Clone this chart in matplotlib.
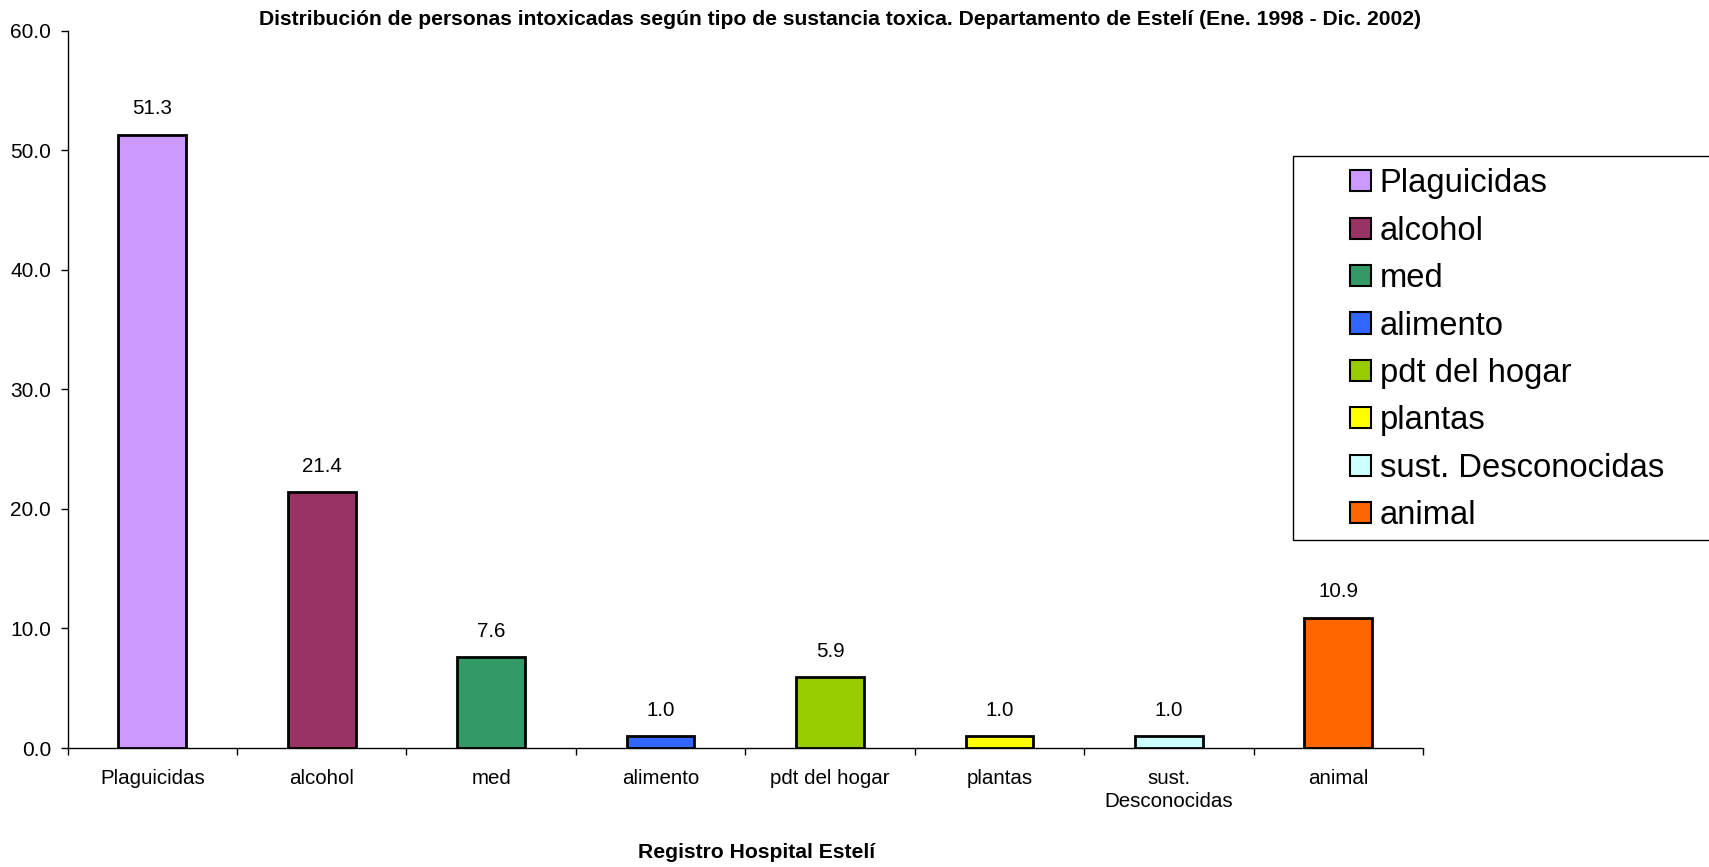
import matplotlib
matplotlib.use("Agg")
import matplotlib.pyplot as plt
from matplotlib.patches import Patch, Rectangle

plt.rcParams['font.family'] = ['Liberation Sans', 'DejaVu Sans']

categories = ["Plaguicidas", "alcohol", "med", "alimento", "pdt del hogar",
              "plantas", "sust. Desconocidas", "animal"]
tick_labels = ["Plaguicidas", "alcohol", "med", "alimento", "pdt del hogar",
               "plantas", "sust.\nDesconocidas", "animal"]
values = [51.3, 21.4, 7.6, 1.0, 5.9, 1.0, 1.0, 10.9]
colors = ["#CC99FF", "#993366", "#339966", "#3366FF", "#99CC00",
          "#FFFF00", "#CCFFFF", "#FF6600"]
y_ticks = [0, 10, 20, 30, 40, 50, 60]

title = ("Distribución de personas intoxicadas según tipo de sustancia toxica. "
         "Departamento de Estelí (Ene. 1998 - Dic. 2002)")
xlabel = "Registro Hospital Estelí"

W, H = 1709, 867
fig = plt.figure(figsize=(W / 100, H / 100), dpi=100)
ax = fig.add_axes([67.6 / W, 1 - 748 / H, (1423 - 67.6) / W, (748 - 30.5) / H])

x = list(range(len(categories)))
ax.bar(x, values, width=0.4, color=colors, edgecolor="black", linewidth=2, zorder=3)

for xi, v in zip(x, values):
    ax.annotate(f"{v:.1f}", (xi, v), xytext=(0, 18.5), textcoords="offset points",
                ha="center", va="center", fontsize=14.8)

ax.set_xlim(-0.5, len(categories) - 0.5)
ax.set_ylim(0, 60)
ax.set_yticks(y_ticks)
ax.set_yticklabels([f"{t:.1f}" for t in y_ticks], fontsize=15)
ax.set_xticks(x)
ax.set_xticklabels(tick_labels, fontsize=14.8, linespacing=1.25)
ax.set_xticks([i - 0.5 for i in range(len(categories) + 1)], minor=True)
ax.tick_params(axis="x", which="major", length=0, pad=15)
ax.tick_params(axis="x", which="minor", length=5, width=1, direction="out")
ax.tick_params(axis="y", length=5, width=1, direction="out", pad=7)

for side in ("top", "right"):
    ax.spines[side].set_visible(False)
for side in ("left", "bottom"):
    ax.spines[side].set_linewidth(1)

fig.text(840 / W, 1 - 19.6 / H, title, ha="center", va="center",
         fontsize=15.2, fontweight="bold")
fig.text(757 / W, 1 - 853 / H, xlabel, ha="center", va="center",
         fontsize=15.2, fontweight="bold")

# legend frame drawn separately so the key sits with a wide left margin
fig.patches.append(Rectangle((1293 / W, 1 - 540 / H), (1720 - 1293) / W, (540 - 156) / H,
                             transform=fig.transFigure, facecolor="white",
                             edgecolor="black", linewidth=1, zorder=1))
handles = [Patch(facecolor=c, edgecolor="black", linewidth=1.5) for c in colors]
fig.legend(handles, categories, loc="upper left",
           bbox_to_anchor=(1334 / W, 1 - 152 / H), frameon=False, fontsize=23.6,
           handlelength=0.64, handleheight=0.62, handletextpad=0.25,
           labelspacing=0.5, borderpad=0)

fig.savefig("out.png", dpi=100)
